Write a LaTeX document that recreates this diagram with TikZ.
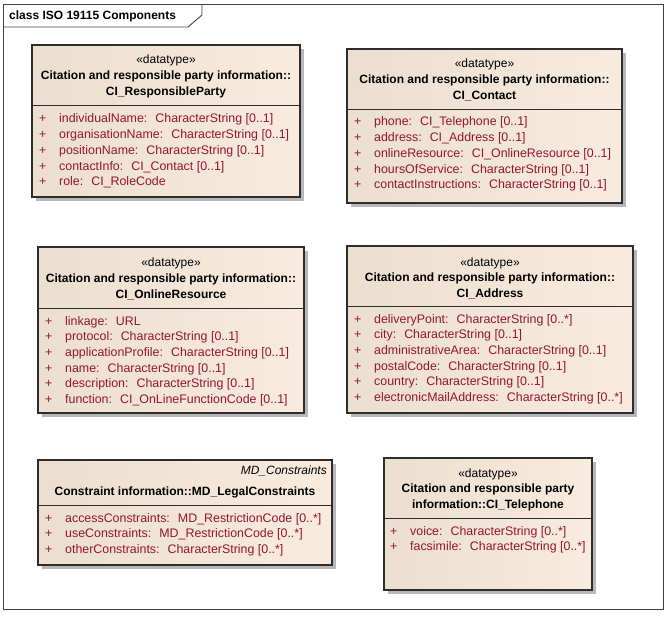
\documentclass[tikz,border=0pt]{standalone}
\usepackage{fontspec}
\setmainfont{Liberation Sans}
\usetikzlibrary{shadows}

\definecolor{boxleft}{RGB}{228,216,200}
\definecolor{boxright}{RGB}{255,242,229}
\definecolor{attrred}{RGB}{150,22,42}
\definecolor{edgegray}{RGB}{45,45,45}
\pgfdeclarehorizontalshading{boxshade}{100bp}{color(0bp)=(boxleft); color(100bp)=(boxright)}

\begin{document}
\begin{tikzpicture}[
    x=1pt, y=-1pt,
    umlbox/.style={rectangle, draw=edgegray, line width=1.2pt, inner sep=0pt, shading=boxshade, drop shadow={shadow xshift=4pt, shadow yshift=-4pt, fill=black!28, opacity=1}},
    divider/.style={draw=edgegray, line width=1pt},
    header/.style={anchor=base, inner sep=0pt, font=\fontsize{12}{15.9}\selectfont},
    attributes/.style={anchor=base west, inner sep=0pt, text=attrred, font=\fontsize{12.4}{15.7}\selectfont},
    frame/.style={draw=black!75, line width=0.9pt}
]
\useasboundingbox (0,0) rectangle (671,617);

% Diagram frame
\draw[frame] (3,4.5) rectangle (663,609);
\draw[frame] (3,27) -- (188,27) -- (202,15) -- (202,4.5);
\node[anchor=base west, inner sep=0pt, font=\fontsize{12}{14}\selectfont\bfseries] (frametab) at (9,20) {class ISO 19115 Components};

% CI_ResponsibleParty
\node[umlbox, minimum width=268, minimum height=152] (party) at (166,121) {};
\draw[divider] (party.west |- 0,106) -- (party.east |- 0,106);
\node[header] (party-head) at (166,64) {\begin{tabular}[t]{@{}c@{}}
    «datatype» \\
    \textbf{Citation and responsible party information::} \\
    \textbf{CI\_ResponsibleParty}
\end{tabular}};
\node[attributes] (party-attr) at (39,123) {\begin{tabular}[t]{@{}p{20pt}@{}l@{}}
    + & individualName:~ CharacterString [0..1] \\
    + & organisationName:~ CharacterString [0..1] \\
    + & positionName:~ CharacterString [0..1] \\
    + & contactInfo:~ CI\_Contact [0..1] \\
    + & role:~ CI\_RoleCode
\end{tabular}};

% CI_Contact
\node[umlbox, minimum width=275, minimum height=154] (contact) at (484.5,126) {};
\draw[divider] (contact.west |- 0,110) -- (contact.east |- 0,110);
\node[header] (contact-head) at (484.5,68) {\begin{tabular}[t]{@{}c@{}}
    «datatype» \\
    \textbf{Citation and responsible party information::} \\
    \textbf{CI\_Contact}
\end{tabular}};
\node[attributes] (contact-attr) at (354,126) {\begin{tabular}[t]{@{}p{20pt}@{}l@{}}
    + & phone:~ CI\_Telephone [0..1] \\
    + & address:~ CI\_Address [0..1] \\
    + & onlineResource:~ CI\_OnlineResource [0..1] \\
    + & hoursOfService:~ CharacterString [0..1] \\
    + & contactInstructions:~ CharacterString [0..1]
\end{tabular}};

% CI_OnlineResource
\node[umlbox, minimum width=266, minimum height=166] (online) at (171,330) {};
\draw[divider] (online.west |- 0,308) -- (online.east |- 0,308);
\node[header] (online-head) at (171,267) {\begin{tabular}[t]{@{}c@{}}
    «datatype» \\
    \textbf{Citation and responsible party information::} \\
    \textbf{CI\_OnlineResource}
\end{tabular}};
\node[attributes] (online-attr) at (45,325) {\begin{tabular}[t]{@{}p{20pt}@{}l@{}}
    + & linkage:~ URL \\
    + & protocol:~ CharacterString [0..1] \\
    + & applicationProfile:~ CharacterString [0..1] \\
    + & name:~ CharacterString [0..1] \\
    + & description:~ CharacterString [0..1] \\
    + & function:~ CI\_OnLineFunctionCode [0..1]
\end{tabular}};

% CI_Address
\node[umlbox, minimum width=286, minimum height=167] (address) at (490,329.5) {};
\draw[divider] (address.west |- 0,306) -- (address.east |- 0,306);
\node[header] (address-head) at (490,266) {\begin{tabular}[t]{@{}c@{}}
    «datatype» \\
    \textbf{Citation and responsible party information::} \\
    \textbf{CI\_Address}
\end{tabular}};
\node[attributes] (address-attr) at (354,323) {\begin{tabular}[t]{@{}p{20pt}@{}l@{}}
    + & deliveryPoint:~ CharacterString [0..*] \\
    + & city:~ CharacterString [0..1] \\
    + & administrativeArea:~ CharacterString [0..1] \\
    + & postalCode:~ CharacterString [0..1] \\
    + & country:~ CharacterString [0..1] \\
    + & electronicMailAddress:~ CharacterString [0..*]
\end{tabular}};

% MD_LegalConstraints
\node[umlbox, minimum width=294, minimum height=105] (legal) at (185,512.5) {};
\draw[divider] (legal.west |- 0,505) -- (legal.east |- 0,505);
\node[header, anchor=base east] (legal-parent) at (327,474) {\itshape MD\_Constraints};
\node[header] (legal-head) at (185,495) {\bfseries Constraint information::MD\_LegalConstraints};
\node[attributes] (legal-attr) at (45,522) {\begin{tabular}[t]{@{}p{20pt}@{}l@{}}
    + & accessConstraints:~ MD\_RestrictionCode [0..*] \\
    + & useConstraints:~ MD\_RestrictionCode [0..*] \\
    + & otherConstraints:~ CharacterString [0..*]
\end{tabular}};

% CI_Telephone
\node[umlbox, minimum width=208, minimum height=132] (phone) at (488,524) {};
\draw[divider] (phone.west |- 0,518) -- (phone.east |- 0,518);
\node[header] (phone-head) at (488,477) {\begin{tabular}[t]{@{}c@{}}
    «datatype» \\
    \textbf{Citation and responsible party} \\
    \textbf{information::CI\_Telephone}
\end{tabular}};
\node[attributes] (phone-attr) at (390,535) {\begin{tabular}[t]{@{}p{20pt}@{}l@{}}
    + & voice:~ CharacterString [0..*] \\
    + & facsimile:~ CharacterString [0..*]
\end{tabular}};

\end{tikzpicture}
\end{document}
